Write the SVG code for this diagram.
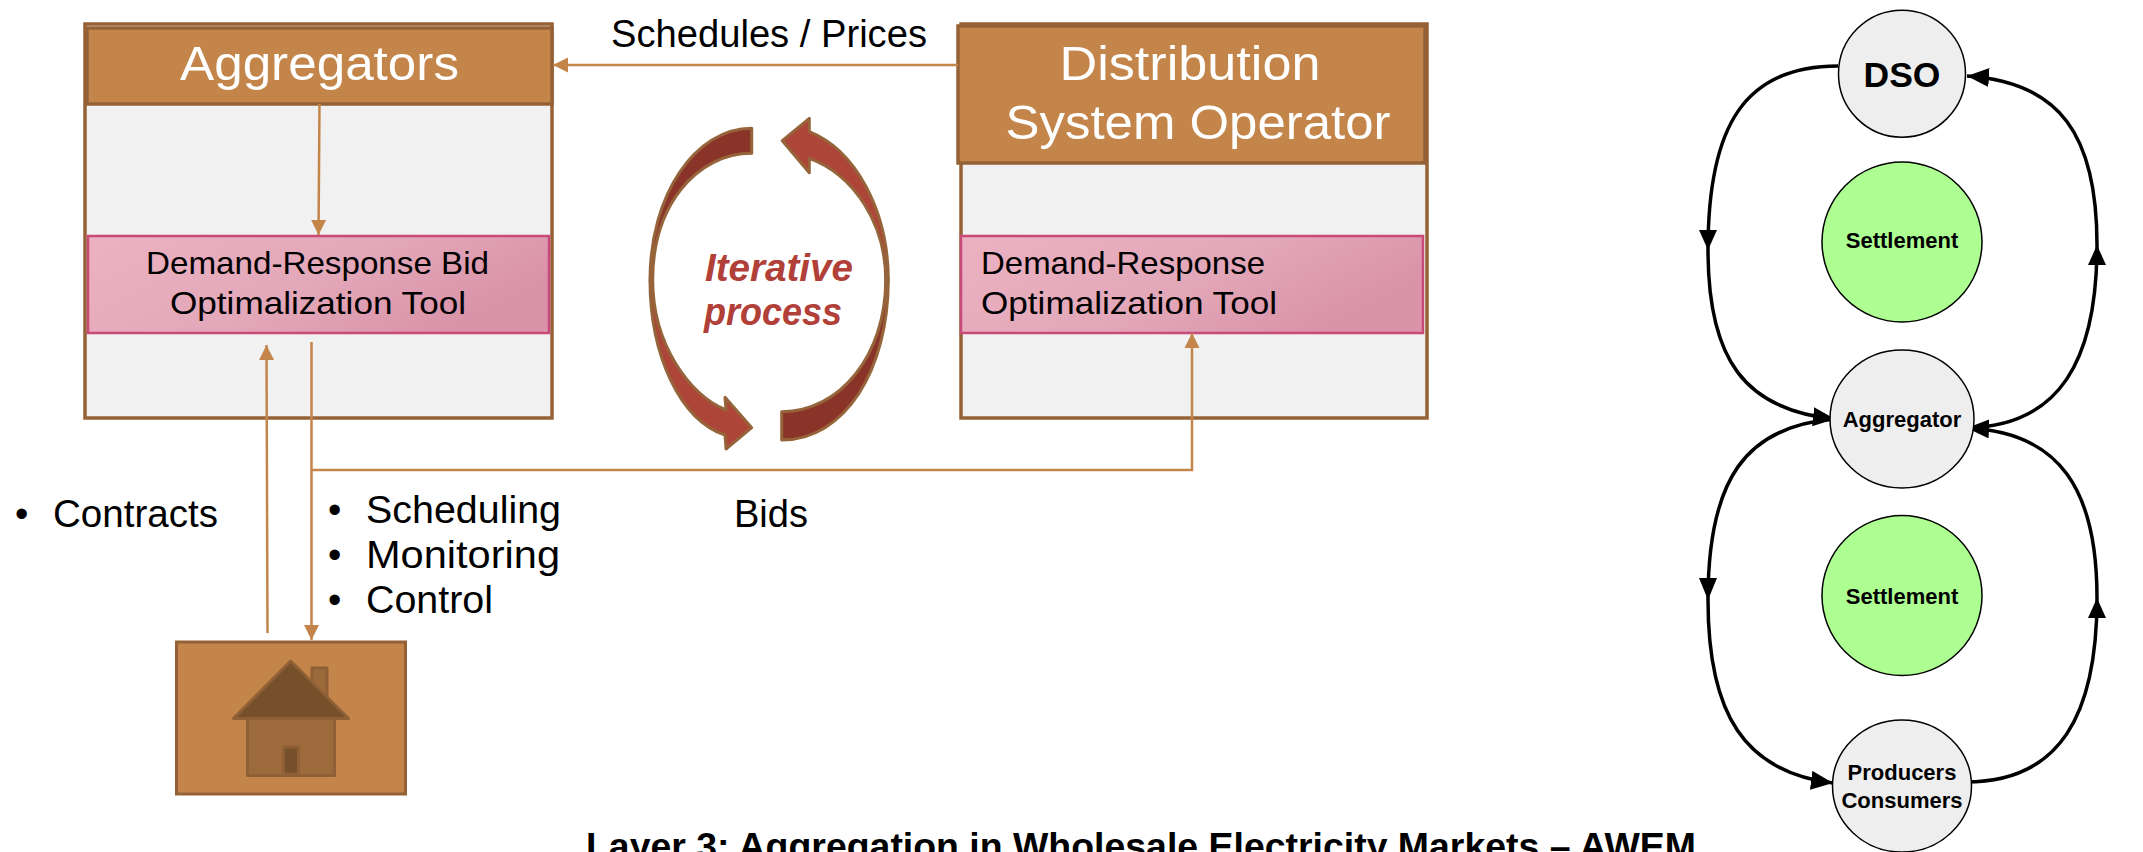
<svg xmlns="http://www.w3.org/2000/svg" width="2143" height="852" viewBox="0 0 2143 852">
<defs>
<linearGradient id="pink" x1="0" y1="0" x2="1" y2="0.4"><stop offset="0" stop-color="#ecb2c2"/><stop offset="0.6" stop-color="#e2a7b8"/><stop offset="1" stop-color="#da93a9"/></linearGradient>
<marker id="oa" markerUnits="userSpaceOnUse" markerWidth="16" markerHeight="16" refX="15" refY="8" orient="auto"><path d="M0 0.5L15 8L0 15.500Z" fill="#c3854a"/></marker>
<marker id="ba" markerUnits="userSpaceOnUse" markerWidth="24" markerHeight="20" refX="22" refY="9.500" orient="auto"><path d="M0 0L22 9.500L0 19Z" fill="#000"/></marker>
</defs>
<style>
text{font-family:"Liberation Sans",Arial,sans-serif}
.panel{fill:#f1f1f1;stroke:#956237;stroke-width:3.500}
.head{fill:#c3854a;stroke:#956237;stroke-width:3.500}
.tool{fill:url(#pink);stroke:#c94a78;stroke-width:2.500}
.ht{fill:#fff;font-size:49px}
.tt{fill:#000;font-size:32px}
.lb{fill:#000;font-size:38px}
.or{fill:none;stroke:#c3854a;stroke-width:2.500}
.arrow-d{fill:#8a3429;stroke:#96643a;stroke-width:3;stroke-linejoin:round}
.arrow-l{fill:#ae4539;stroke:#96643a;stroke-width:3;stroke-linejoin:round}
.it{fill:#b04038;font-size:38px;font-weight:bold;font-style:italic}
.c{fill:#eee;stroke:#000;stroke-width:1.500}
.g{fill:#aeff91;stroke:#000;stroke-width:1.500}
.cv{fill:none;stroke:#000;stroke-width:3.500}
.nt{fill:#000;font-weight:bold;font-size:22px;text-anchor:middle}
</style>
<rect width="2143" height="852" fill="#fff"/>

<g id="aggregators">
<rect class="panel" x="85" y="24" width="467" height="394"/>
<rect class="head" x="87" y="28" width="465" height="76"/>
<text class="ht" x="180" y="80" textLength="279" lengthAdjust="spacingAndGlyphs">Aggregators</text>
</g>
<g id="aggregator-tool">
<rect class="tool" x="88" y="236" width="461" height="97"/>
<text class="tt" x="146" y="274" textLength="343" lengthAdjust="spacingAndGlyphs">Demand-Response Bid</text>
<text class="tt" x="170" y="314" textLength="296" lengthAdjust="spacingAndGlyphs">Optimalization Tool</text>
</g>
<g id="dso-panel">
<rect class="panel" x="961" y="24" width="466" height="394"/>
<rect class="head" x="958" y="26" width="467" height="137"/>
<text class="ht" x="1059.500" y="80" textLength="261" lengthAdjust="spacingAndGlyphs">Distribution</text>
<text class="ht" x="1005.500" y="139" textLength="385" lengthAdjust="spacingAndGlyphs">System Operator</text>
</g>
<g id="dso-tool">
<rect class="tool" x="961" y="236" width="462" height="97"/>
<text class="tt" x="981" y="274" textLength="284" lengthAdjust="spacingAndGlyphs">Demand-Response</text>
<text class="tt" x="981" y="314" textLength="296" lengthAdjust="spacingAndGlyphs">Optimalization Tool</text>
</g>
<g id="home">
<rect x="176.500" y="642" width="229" height="152" fill="#c3854a" stroke="#956237" stroke-width="3"/>
<rect x="312" y="668" width="15" height="40" fill="#9d6a3b" stroke="#8f5f35" stroke-width="3" stroke-linejoin="round"/>
<rect x="247.500" y="718" width="87" height="57.500" fill="#9d6a3b" stroke="#8f5f35" stroke-width="3" stroke-linejoin="round"/>
<rect x="283.500" y="747" width="15" height="27" fill="#75502b" stroke="#8f5f35" stroke-width="3"/>
<path d="M290.700 661L233.500 718.500H348.500Z" fill="#75502b" stroke="#8f5f35" stroke-width="3" stroke-linejoin="round"/>
</g>

<g id="connectors">
<path class="or" d="M958 65H553" marker-end="url(#oa)"/>
<path class="or" d="M319.500 104L318.500 235" marker-end="url(#oa)"/>
<path class="or" d="M267.500 633L266.500 345" marker-end="url(#oa)"/>
<path class="or" d="M311.500 342V640" marker-end="url(#oa)"/>
<path class="or" d="M312 470H1192V333" marker-end="url(#oa)"/>
<path class="cv" d="M1838 66C1745 66 1708 125 1708 250"/>
<path d="M1699 230H1717L1708 250Z"/>
<path class="cv" d="M1708 250C1708 360 1745 410 1835 419" marker-end="url(#ba)"/>
<path class="cv" d="M1967 428C2060 426 2097 360 2097 245"/>
<path d="M2088 265H2106L2097 245Z"/>
<path class="cv" d="M2097 245C2097 135 2060 82 1967 76" marker-end="url(#ba)"/>
<path class="cv" d="M1835 419C1745 426 1708 480 1708 600"/>
<path d="M1699 578H1717L1708 600Z"/>
<path class="cv" d="M1708 600C1708 715 1745 772 1833 783" marker-end="url(#ba)"/>
<path class="cv" d="M1966 782C2060 782 2097 715 2097 598"/>
<path d="M2088 618H2106L2097 598Z"/>
<path class="cv" d="M2097 598C2097 490 2060 432 1967 428" marker-end="url(#ba)"/>
</g>

<g id="iterative-process">
<path class="arrow-l" d="M650 280C650 355 680 420 725 435L726 449L751.700 427.700L725 397.300L726 410C690 395 652.700 345 652.700 280Z"/>
<path class="arrow-d" d="M751.700 128.300C695 128.300 650 195 650 280L652.700 280C652.700 205 697 153.300 751.700 153.300Z"/>
<path class="arrow-l" d="M782.300 140.700L809.300 118.300L809.300 131.700C855 150 888.300 210 888.300 280L885.700 280C885.700 225 855 175 809.300 158.300L809.300 172.700Z"/>
<path class="arrow-d" d="M781.700 411.700C840 411.700 885.700 355 885.700 280L888.300 280C888.300 370 845 440 781.700 440Z"/>
<text class="it" x="705" y="281" textLength="148" lengthAdjust="spacingAndGlyphs">Iterative</text>
<text class="it" x="704" y="325" textLength="138" lengthAdjust="spacingAndGlyphs">process</text>
</g>

<g id="labels">
<text class="lb" x="611" y="47" textLength="316" lengthAdjust="spacingAndGlyphs">Schedules / Prices</text>
<text class="lb" x="15" y="527">•</text>
<text class="lb" x="53" y="527" textLength="165" lengthAdjust="spacingAndGlyphs">Contracts</text>
<text class="lb" x="328" y="523">•</text>
<text class="lb" x="366" y="523" textLength="195" lengthAdjust="spacingAndGlyphs">Scheduling</text>
<text class="lb" x="328" y="568">•</text>
<text class="lb" x="366" y="568" textLength="194" lengthAdjust="spacingAndGlyphs">Monitoring</text>
<text class="lb" x="328" y="613">•</text>
<text class="lb" x="366" y="613" textLength="127" lengthAdjust="spacingAndGlyphs">Control</text>
<text class="lb" x="734" y="527" textLength="74" lengthAdjust="spacingAndGlyphs">Bids</text>
<text x="586" y="859" font-size="37" font-weight="bold" fill="#000" textLength="1110" lengthAdjust="spacingAndGlyphs">Layer 3: Aggregation in Wholesale Electricity Markets – AWEM</text>
</g>

<g id="dso"><circle class="c" cx="1902" cy="73.700" r="63.500"/><text class="nt" x="1902" y="87" style="font-size:35.500px">DSO</text></g>
<g id="settlement-1"><circle class="g" cx="1902" cy="242" r="80"/><text class="nt" x="1902" y="248">Settlement</text></g>
<g id="aggregator"><ellipse class="c" cx="1902" cy="419" rx="72" ry="69"/><text class="nt" x="1902" y="427">Aggregator</text></g>
<g id="settlement-2"><circle class="g" cx="1902" cy="595.500" r="80"/><text class="nt" x="1902" y="604">Settlement</text></g>
<g id="producers-consumers"><ellipse class="c" cx="1902" cy="786" rx="69.500" ry="66"/><text class="nt" x="1902" y="780">Producers</text><text class="nt" x="1902" y="808">Consumers</text></g>
</svg>
